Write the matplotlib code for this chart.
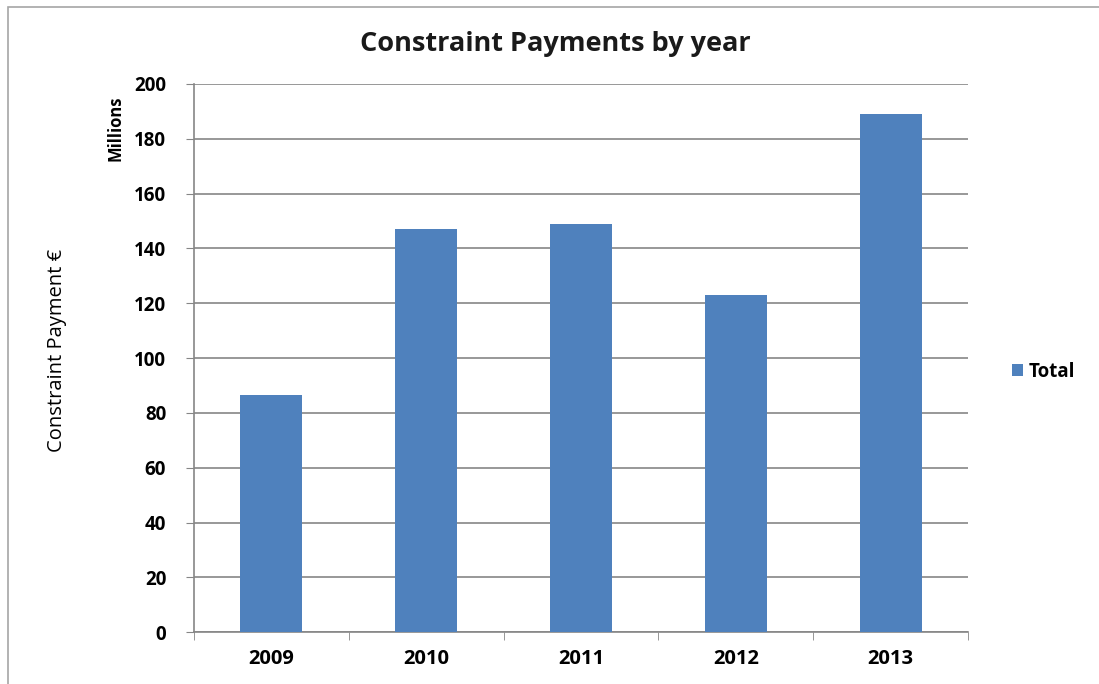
import matplotlib.pyplot as plt
from matplotlib.patches import Rectangle

# Constraint payments per year, in millions of euro
years = ['2009', '2010', '2011', '2012', '2013']
totals = [86.7, 147.2, 149.0, 123.1, 189.0]
y_ticks = [0, 20, 40, 60, 80, 100, 120, 140, 160, 180, 200]

BAR_COLOR = '#4F81BD'
LINE_COLOR = '#868686'

plt.rcParams['font.family'] = ['Open Sans', 'DejaVu Sans']

fig = plt.figure(figsize=(10.99, 6.84), dpi=100)
ax = fig.add_axes([0.1765, 0.0756, 0.7043, 0.8016])

x = list(range(len(years)))
ax.bar(x, totals, width=0.4, color=BAR_COLOR, label='Total', zorder=3)

ax.set_xlim(-0.5, len(years) - 0.5)
ax.set_ylim(0, 200)
ax.set_yticks(y_ticks)
ax.set_yticklabels([str(v) for v in y_ticks], fontsize=13.5, fontweight='bold')
ax.set_xticks(x)
ax.set_xticklabels(years, fontsize=14.5, fontweight='bold')

# category boundary ticks on the x axis
ax.set_xticks([i - 0.5 for i in range(len(years) + 1)], minor=True)
ax.tick_params(axis='x', which='major', length=0, pad=12)
ax.tick_params(axis='x', which='minor', length=6, color=LINE_COLOR, direction='out')
ax.tick_params(axis='y', length=6, color=LINE_COLOR, pad=14)

ax.grid(axis='y', color=LINE_COLOR, linewidth=1.2, zorder=0)
ax.set_axisbelow(True)
for side in ['top', 'right']:
    ax.spines[side].set_visible(False)
for side in ['left', 'bottom']:
    ax.spines[side].set_color(LINE_COLOR)
    ax.spines[side].set_linewidth(1.2)

fig.text(0.505, 0.935, 'Constraint Payments by year', ha='center', va='center',
         fontsize=19.5, fontweight='bold', color='#1a1a1a')
fig.text(0.105, 0.813, 'Millions', rotation=90, ha='center', va='center',
         fontsize=12, fontweight='bold')
fig.text(0.052, 0.488, 'Constraint Payment €', rotation=90, ha='center', va='center',
         fontsize=14.5)

ax.legend(loc='center left', bbox_to_anchor=(1.035, 0.475), frameon=False,
          handlelength=0.6, handleheight=0.6, handletextpad=0.3,
          prop={'size': 13.5, 'weight': 'bold'})

# thin frame around the chart area
fig.patches.append(Rectangle((8 / 1099, -0.01), 1.0, 1 - 7 / 684 + 0.01,
                             transform=fig.transFigure, fill=False,
                             edgecolor='#a6a6a6', linewidth=1.2))

fig.savefig('out.png', dpi=100)
